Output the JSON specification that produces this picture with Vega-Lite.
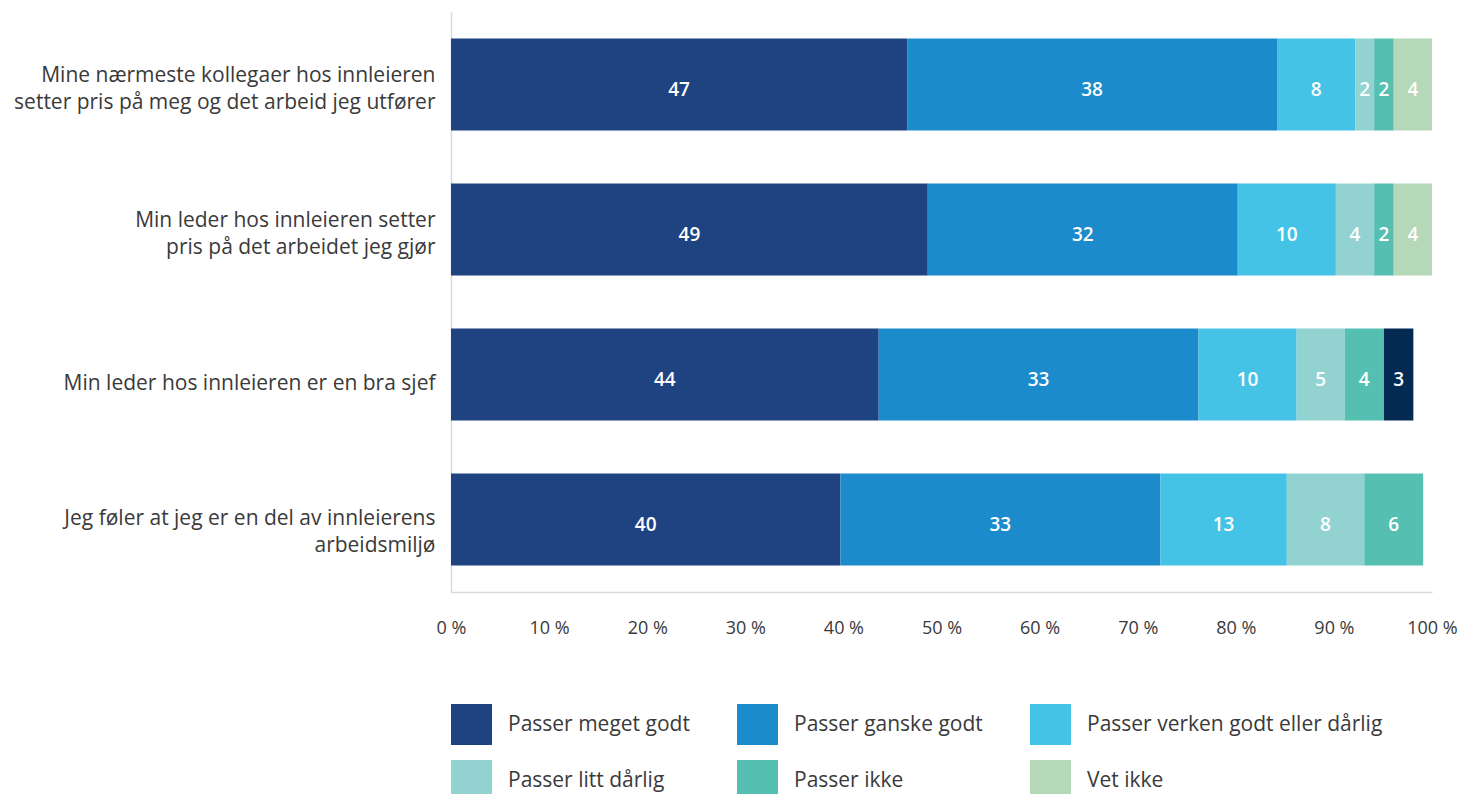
{
  "$schema": "https://vega.github.io/schema/vega-lite/v6.json",
  "autosize": {"type": "none"},
  "width": 981,
  "height": 580,
  "padding": {"left": 451, "top": 12, "right": 38, "bottom": 202},
  "background": "white",
  "config": {
    "view": {"stroke": null},
    "font": "Open Sans",
    "text": {"font": "Open Sans"}
  },
  "data": {
    "values": [
      {"utsagn": "Mine nærmeste kollegaer hos innleieren|setter pris på meg og det arbeid jeg utfører", "svar": "Passer meget godt", "farge": "Passer meget godt", "nr": 1, "andel": 46.5, "etikett": "47"},
      {"utsagn": "Mine nærmeste kollegaer hos innleieren|setter pris på meg og det arbeid jeg utfører", "svar": "Passer ganske godt", "farge": "Passer ganske godt", "nr": 2, "andel": 37.7, "etikett": "38"},
      {"utsagn": "Mine nærmeste kollegaer hos innleieren|setter pris på meg og det arbeid jeg utfører", "svar": "Passer verken godt eller dårlig", "farge": "Passer verken godt eller dårlig", "nr": 3, "andel": 8.0, "etikett": "8"},
      {"utsagn": "Mine nærmeste kollegaer hos innleieren|setter pris på meg og det arbeid jeg utfører", "svar": "Passer litt dårlig", "farge": "Passer litt dårlig", "nr": 4, "andel": 1.9, "etikett": "2"},
      {"utsagn": "Mine nærmeste kollegaer hos innleieren|setter pris på meg og det arbeid jeg utfører", "svar": "Passer ikke", "farge": "Passer ikke", "nr": 5, "andel": 2.0, "etikett": "2"},
      {"utsagn": "Mine nærmeste kollegaer hos innleieren|setter pris på meg og det arbeid jeg utfører", "svar": "Vet ikke", "farge": "Vet ikke", "nr": 6, "andel": 3.9, "etikett": "4"},

      {"utsagn": "Min leder hos innleieren setter |pris på det arbeidet jeg gjør", "svar": "Passer meget godt", "farge": "Passer meget godt", "nr": 1, "andel": 48.6, "etikett": "49"},
      {"utsagn": "Min leder hos innleieren setter |pris på det arbeidet jeg gjør", "svar": "Passer ganske godt", "farge": "Passer ganske godt", "nr": 2, "andel": 31.6, "etikett": "32"},
      {"utsagn": "Min leder hos innleieren setter |pris på det arbeidet jeg gjør", "svar": "Passer verken godt eller dårlig", "farge": "Passer verken godt eller dårlig", "nr": 3, "andel": 10.0, "etikett": "10"},
      {"utsagn": "Min leder hos innleieren setter |pris på det arbeidet jeg gjør", "svar": "Passer litt dårlig", "farge": "Passer litt dårlig", "nr": 4, "andel": 3.9, "etikett": "4"},
      {"utsagn": "Min leder hos innleieren setter |pris på det arbeidet jeg gjør", "svar": "Passer ikke", "farge": "Passer ikke", "nr": 5, "andel": 2.0, "etikett": "2"},
      {"utsagn": "Min leder hos innleieren setter |pris på det arbeidet jeg gjør", "svar": "Vet ikke", "farge": "Vet ikke", "nr": 6, "andel": 3.9, "etikett": "4"},

      {"utsagn": "Min leder hos innleieren er en bra sjef", "svar": "Passer meget godt", "farge": "Passer meget godt", "nr": 1, "andel": 43.6, "etikett": "44"},
      {"utsagn": "Min leder hos innleieren er en bra sjef", "svar": "Passer ganske godt", "farge": "Passer ganske godt", "nr": 2, "andel": 32.6, "etikett": "33"},
      {"utsagn": "Min leder hos innleieren er en bra sjef", "svar": "Passer verken godt eller dårlig", "farge": "Passer verken godt eller dårlig", "nr": 3, "andel": 10.0, "etikett": "10"},
      {"utsagn": "Min leder hos innleieren er en bra sjef", "svar": "Passer litt dårlig", "farge": "Passer litt dårlig", "nr": 4, "andel": 4.9, "etikett": "5"},
      {"utsagn": "Min leder hos innleieren er en bra sjef", "svar": "Passer ikke", "farge": "Passer ikke", "nr": 5, "andel": 4.0, "etikett": "4"},
      {"utsagn": "Min leder hos innleieren er en bra sjef", "svar": "Vet ikke", "farge": "Vet ikke (mørk)", "nr": 6, "andel": 3.0, "etikett": "3"},

      {"utsagn": "Jeg føler at jeg er en del av innleierens|arbeidsmiljø", "svar": "Passer meget godt", "farge": "Passer meget godt", "nr": 1, "andel": 39.7, "etikett": "40"},
      {"utsagn": "Jeg føler at jeg er en del av innleierens|arbeidsmiljø", "svar": "Passer ganske godt", "farge": "Passer ganske godt", "nr": 2, "andel": 32.6, "etikett": "33"},
      {"utsagn": "Jeg føler at jeg er en del av innleierens|arbeidsmiljø", "svar": "Passer verken godt eller dårlig", "farge": "Passer verken godt eller dårlig", "nr": 3, "andel": 12.9, "etikett": "13"},
      {"utsagn": "Jeg føler at jeg er en del av innleierens|arbeidsmiljø", "svar": "Passer litt dårlig", "farge": "Passer litt dårlig", "nr": 4, "andel": 7.9, "etikett": "8"},
      {"utsagn": "Jeg føler at jeg er en del av innleierens|arbeidsmiljø", "svar": "Passer ikke", "farge": "Passer ikke", "nr": 5, "andel": 6.0, "etikett": "6"}
    ]
  },
  "encoding": {
    "y": {
      "field": "utsagn",
      "type": "nominal",
      "sort": null,
      "title": null,
      "scale": {"paddingInner": 0.366, "paddingOuter": 0.183},
      "axis": {
        "labelExpr": "split(datum.label, '|')",
        "labelFont": "Open Sans",
        "labelFontSize": 21,
        "labelColor": "#3a3a3a",
        "labelLimit": 450,
        "labelPadding": 16,
        "labelLineHeight": 27,
        "labelOffset": {"expr": "datum.value == 'Min leder hos innleieren er en bra sjef' ? 9 : (indexof(datum.value, 'Jeg') == 0 ? -1 : -9)"},
        "ticks": false,
        "domainColor": "#d9d9d9",
        "domainWidth": 1.5
      }
    },
    "x": {
      "field": "andel",
      "type": "quantitative",
      "stack": "zero",
      "title": null,
      "scale": {"domain": [0, 100], "nice": false},
      "axis": {
        "values": [0, 10, 20, 30, 40, 50, 60, 70, 80, 90, 100],
        "labelExpr": "datum.value + ' %'",
        "labelFont": "Open Sans",
        "labelFontSize": 18,
        "labelColor": "#3a3a3a",
        "labelPadding": 27,
        "ticks": false,
        "grid": false,
        "domainColor": "#d9d9d9",
        "domainWidth": 1.5,
        "labelFlush": false
      }
    },
    "order": {"field": "nr", "type": "quantitative"}
  },
  "layer": [
    {
      "mark": {"type": "bar"},
      "encoding": {
        "color": {
          "field": "farge",
          "type": "nominal",
          "scale": {
            "domain": ["Passer meget godt", "Passer ganske godt", "Passer verken godt eller dårlig", "Passer litt dårlig", "Passer ikke", "Vet ikke", "Vet ikke (mørk)"],
            "range": ["#1e4380", "#1b8bcb", "#45c3e6", "#92d3d2", "#55bfb1", "#b5d8b9", "#022a53"]
          },
          "legend": {
            "title": null,
            "values": ["Passer meget godt", "Passer ganske godt", "Passer verken godt eller dårlig", "Passer litt dårlig", "Passer ikke", "Vet ikke"],
            "orient": "none",
            "legendX": 0,
            "legendY": 692,
            "direction": "horizontal",
            "columns": 3,
            "symbolType": "square",
            "symbolSize": 1681,
            "symbolStrokeWidth": 0,
            "labelFont": "Open Sans",
            "labelFontSize": 21,
            "labelColor": "#3a3a3a",
            "labelOffset": 16,
            "labelLimit": 400,
            "columnPadding": 47,
            "rowPadding": 15,
            "padding": 0
          }
        }
      }
    },
    {
      "mark": {"type": "text", "color": "white", "fontWeight": 600, "fontSize": 19, "font": "Open Sans", "baseline": "middle", "align": "center", "dy": 5},
      "encoding": {
        "x": {"field": "andel", "type": "quantitative", "stack": "zero", "bandPosition": 0.5},
        "text": {"field": "etikett", "type": "nominal"}
      }
    }
  ]
}
